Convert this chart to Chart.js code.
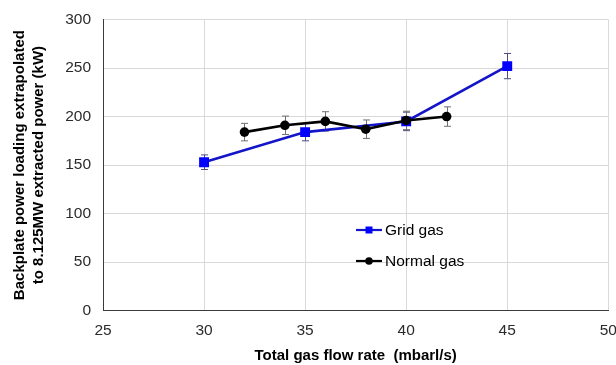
<!DOCTYPE html>
<html>
<head>
<meta charset="utf-8">
<script src="https://cdn.jsdelivr.net/npm/chart.js@4.4.1/dist/chart.umd.min.js"></script>
<style>
  html, body { margin: 0; padding: 0; background: #ffffff; }
  #wrap { width: 616px; height: 365px; }
</style>
</head>
<body>
<div id="wrap"><canvas id="c" width="616" height="365"></canvas></div>
<script>
// Backplate power loading vs total gas flow rate
const gridFlow = [30, 35, 40, 45];
const gridPower = [153, 184, 195, 252];
const gridErr = [7.5, 9, 9.5, 13];

const normalFlow = [32, 34, 36, 38, 40, 42];
const normalPower = [184, 191, 195, 187, 196, 200];
const normalErr = [9, 9.5, 10, 9.5, 9.5, 10];

const xTickValues = [25, 30, 35, 40, 45, 50];
const yTickValues = [0, 50, 100, 150, 200, 250, 300];

const seriesNames = ['Grid gas', 'Normal gas'];

const FONT = '"Liberation Sans", Arial, sans-serif';

const toPoints = (xs, ys) => xs.map((v, i) => ({ x: v, y: ys[i] }));

// vertical error bars with caps, drawn beneath the markers
const errorBars = {
  id: 'errorBars',
  beforeDatasetsDraw(chart) {
    const { ctx, scales: { x, y } } = chart;
    const sets = [
      { xs: gridFlow, ys: gridPower, es: gridErr, color: '#4d4d85' },
      { xs: normalFlow, ys: normalPower, es: normalErr, color: '#707070' }
    ];
    ctx.save();
    ctx.lineWidth = 1;
    sets.forEach(s => {
      ctx.strokeStyle = s.color;
      s.xs.forEach((xv, i) => {
        const px = Math.round(x.getPixelForValue(xv)) + 0.5;
        const top = y.getPixelForValue(s.ys[i] + s.es[i]);
        const bot = y.getPixelForValue(s.ys[i] - s.es[i]);
        ctx.beginPath();
        ctx.moveTo(px, top); ctx.lineTo(px, bot);
        ctx.moveTo(px - 3.5, top); ctx.lineTo(px + 3.5, top);
        ctx.moveTo(px - 3.5, bot); ctx.lineTo(px + 3.5, bot);
        ctx.stroke();
      });
    });
    ctx.restore();
  }
};

// legend placed inside the plot area
const insideLegend = {
  id: 'insideLegend',
  afterDraw(chart) {
    const { ctx } = chart;
    const items = [
      { label: seriesNames[0], line: '#1414c8', fill: '#0000ff', shape: 'rect', y: 230 },
      { label: seriesNames[1], line: '#000000', fill: '#000000', shape: 'circle', y: 261 }
    ];
    const x0 = 356, x1 = 382, xm = 369, tx = 385;
    ctx.save();
    items.forEach(it => {
      ctx.strokeStyle = it.line;
      ctx.lineWidth = 2.2;
      ctx.beginPath();
      ctx.moveTo(x0, it.y); ctx.lineTo(x1, it.y);
      ctx.stroke();
      ctx.fillStyle = it.fill;
      if (it.shape === 'rect') {
        ctx.fillRect(xm - 3.5, it.y - 3.5, 7, 7);
      } else {
        ctx.beginPath();
        ctx.arc(xm, it.y, 3.8, 0, Math.PI * 2);
        ctx.fill();
      }
      ctx.fillStyle = '#000000';
      ctx.font = '15.5px ' + FONT;
      ctx.textBaseline = 'middle';
      ctx.textAlign = 'left';
      ctx.fillText(it.label, tx, it.y + 1);
    });
    ctx.restore();
  }
};

new Chart(document.getElementById('c'), {
  type: 'scatter',
  data: {
    datasets: [
      {
        label: seriesNames[0],
        data: toPoints(gridFlow, gridPower),
        showLine: true,
        borderColor: '#1414c8',
        borderWidth: 2.6,
        backgroundColor: '#0000ff',
        pointStyle: 'rect',
        pointRadius: 7,
        pointBorderWidth: 0,
        pointBackgroundColor: '#0000ff',
        order: 1
      },
      {
        label: seriesNames[1],
        data: toPoints(normalFlow, normalPower),
        showLine: true,
        borderColor: '#000000',
        borderWidth: 2.6,
        backgroundColor: '#000000',
        pointStyle: 'circle',
        pointRadius: 4.8,
        pointBorderWidth: 0,
        pointBackgroundColor: '#000000',
        order: 0
      }
    ]
  },
  options: {
    responsive: false,
    animation: false,
    events: [],
    layout: { padding: { top: 19.5, right: 7.7, left: 0, bottom: 0 } },
    plugins: {
      legend: { display: false },
      tooltip: { enabled: false }
    },
    scales: {
      x: {
        type: 'linear',
        min: 25,
        max: 50,
        afterBuildTicks: s => { s.ticks = xTickValues.map(v => ({ value: v })); },
        afterFit: s => { s.height = 54.3; s.paddingLeft = 0; s.paddingRight = 0; },
        grid: { color: '#d9d9d9', lineWidth: 1, drawTicks: false },
        border: { display: true, color: '#3a3a3a', width: 1 },
        ticks: {
          padding: 11,
          color: '#2b2b2b',
          font: { family: FONT, size: 15.5 },
          maxRotation: 0
        },
        title: {
          display: true,
          text: 'Total gas flow rate  (mbarl/s)',
          color: '#000000',
          font: { family: FONT, size: 15, weight: 'bold', lineHeight: '18px' },
          padding: { top: 0, bottom: 0 }
        }
      },
      y: {
        type: 'linear',
        min: 0,
        max: 300,
        afterBuildTicks: s => { s.ticks = yTickValues.map(v => ({ value: v })); },
        afterFit: s => { s.width = 103; s.paddingTop = 0; s.paddingBottom = 0; },
        grid: { color: '#d9d9d9', lineWidth: 1, drawTicks: false },
        border: { display: true, color: '#3a3a3a', width: 1 },
        ticks: {
          padding: 12,
          color: '#2b2b2b',
          font: { family: FONT, size: 15.5 }
        },
        title: {
          display: true,
          text: ['Backplate power loading extrapolated', 'to 8.125MW extracted power (kW)'],
          color: '#000000',
          font: { family: FONT, size: 15, weight: 'bold', lineHeight: '19px' },
          padding: { top: 10, bottom: 0 }
        }
      }
    }
  },
  plugins: [errorBars, insideLegend]
});
</script>
</body>
</html>
